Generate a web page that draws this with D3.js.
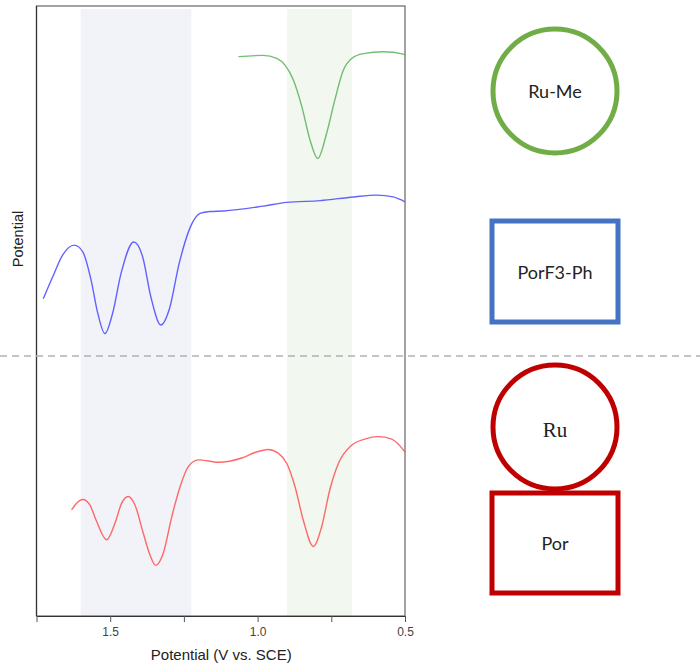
<!DOCTYPE html>
<html>
<head>
<meta charset="utf-8">
<script src="https://cdn.jsdelivr.net/npm/d3@7"></script>
<style>
  body { margin: 0; background: #fff; }
  svg { display: block; }
</style>
</head>
<body>
<svg id="chart" width="700" height="663"></svg>
<script>
// Potential (V vs. SCE) and relative signal for each trace
const potentialRuMe = [1.065, 0.981, 0.935, 0.907, 0.879, 0.850, 0.822, 0.796, 0.766, 0.738, 0.709, 0.681, 0.641, 0.574, 0.506, 0.500];
const signalRuMe    = [91.7, 91.9, 91.4, 90.3, 87.9, 83.5, 78.0, 75.0, 79.1, 84.6, 89.5, 91.4, 92.2, 92.5, 92.1, 92.0];

const potentialPorF3Ph = [1.727, 1.695, 1.661, 1.622, 1.593, 1.565, 1.542, 1.518, 1.492, 1.463, 1.420, 1.390, 1.362, 1.328, 1.300, 1.266, 1.232, 1.224, 1.195, 1.162, 1.116, 0.981, 0.901, 0.788, 0.675, 0.596, 0.540, 0.500];
const signalPorF3Ph    = [52.0, 55.6, 59.2, 60.8, 59.7, 55.1, 49.6, 46.3, 49.6, 56.2, 61.3, 58.9, 52.3, 47.7, 50.2, 57.8, 63.3, 64.2, 66.0, 66.3, 66.4, 67.2, 67.8, 68.1, 68.7, 69.0, 68.7, 67.9];

const potentialRuPor = [1.631, 1.614, 1.593, 1.569, 1.546, 1.512, 1.484, 1.461, 1.439, 1.416, 1.388, 1.365, 1.346, 1.320, 1.291, 1.263, 1.235, 1.201, 1.133, 1.054, 1.009, 0.964, 0.930, 0.901, 0.873, 0.845, 0.811, 0.783, 0.755, 0.726, 0.681, 0.636, 0.591, 0.545, 0.500];
const signalRuPor    = [17.4, 18.5, 19.1, 18.2, 15.5, 12.5, 15.2, 18.5, 19.6, 18.2, 13.6, 10.0, 8.3, 10.3, 16.3, 21.2, 24.5, 25.6, 25.2, 25.9, 26.8, 27.3, 26.7, 25.0, 21.2, 15.7, 11.4, 14.6, 20.7, 25.0, 28.0, 29.0, 29.4, 29.0, 26.9];

// Axis ticks
const xTickValues = [1.75, 1.5, 1.25, 1.0, 0.75, 0.5];
const xTickLabels = ["", "1.5", "", "1.0", "", "0.5"];

// Highlighted potential windows
const bandStart = [1.60, 0.90];
const bandEnd   = [1.225, 0.68];

// Species key labels
const speciesLabels = ["Ru-Me", "PorF3-Ph", "Ru", "Por"];

const svg = d3.select("#chart");
const plot = { left: 36.5, right: 405, top: 6, bottom: 616 };

const x = d3.scaleLinear().domain([1.75, 0.5]).range([plot.left, plot.right]);
const y = d3.scaleLinear().domain([0, 100]).range([plot.bottom, plot.top]);

// shaded windows
const bandColors = ["#f2f3f8", "#f2f7f0"];
svg.append("g").selectAll("rect")
  .data(bandStart.map((s, i) => ({ s, e: bandEnd[i], c: bandColors[i] })))
  .join("rect")
  .attr("x", d => x(d.s))
  .attr("y", plot.top + 3)
  .attr("width", d => x(d.e) - x(d.s))
  .attr("height", plot.bottom - plot.top - 3)
  .attr("fill", d => d.c);

// frame
svg.append("rect")
  .attr("x", plot.left).attr("y", plot.top)
  .attr("width", plot.right - plot.left).attr("height", plot.bottom - plot.top)
  .attr("fill", "none").attr("stroke", "#666").attr("stroke-width", 1.2);
svg.append("line")
  .attr("x1", plot.left).attr("x2", plot.left)
  .attr("y1", plot.top).attr("y2", plot.bottom)
  .attr("stroke", "#333").attr("stroke-width", 1.2);

// traces
const line = d3.line().x(d => x(d[0])).y(d => y(d[1])).curve(d3.curveMonotoneX);
const traces = [
  { p: potentialRuMe, s: signalRuMe, color: "#4fae4f", op: 0.8 },
  { p: potentialPorF3Ph, s: signalPorF3Ph, color: "#5252ff", op: 0.9 },
  { p: potentialRuPor, s: signalRuPor, color: "#ff5050", op: 0.85 }
];
svg.append("g").selectAll("path")
  .data(traces)
  .join("path")
  .attr("d", d => line(d.p.map((v, i) => [v, d.s[i]])))
  .attr("fill", "none")
  .attr("stroke", d => d.color)
  .attr("stroke-opacity", d => d.op)
  .attr("stroke-width", 1.4);

// bottom axis
const xAxis = d3.axisBottom(x)
  .tickValues(xTickValues)
  .tickFormat((d, i) => xTickLabels[i])
  .tickSize(6)
  .tickSizeOuter(0);
const gx = svg.append("g").attr("transform", `translate(0,${plot.bottom})`).call(xAxis);
gx.select(".domain").attr("stroke", "#333").attr("stroke-width", 1.2);
gx.selectAll(".tick line").attr("stroke", "#555");
gx.selectAll(".tick text")
  .attr("font-family", "Liberation Sans, Arial, sans-serif")
  .attr("font-size", 12)
  .attr("fill", "#444")
  .attr("dy", "0.95em");

// axis titles
svg.append("text")
  .attr("x", (plot.left + plot.right) / 2 + 0.5)
  .attr("y", 660)
  .attr("text-anchor", "middle")
  .attr("font-family", "Liberation Sans, Arial, sans-serif")
  .attr("font-size", 15)
  .attr("fill", "#222")
  .text("Potential (V vs. SCE)");
svg.append("text")
  .attr("transform", "translate(23,239) rotate(-90)")
  .attr("text-anchor", "middle")
  .attr("font-family", "Liberation Sans, Arial, sans-serif")
  .attr("font-size", 14.5)
  .attr("fill", "#222")
  .text("Potential");

// separator between the two halves
svg.append("line")
  .attr("x1", 0).attr("x2", 700)
  .attr("y1", 356).attr("y2", 356)
  .attr("stroke", "#b0b0b8")
  .attr("stroke-width", 1.5)
  .attr("stroke-dasharray", "7,5");

// species key
const key = svg.append("g");
const cx = 555;
const sw = 5;
// Ru-Me circle
key.append("circle").attr("cx", cx).attr("cy", 91).attr("r", 62)
  .attr("fill", "none").attr("stroke", "#70ad47").attr("stroke-width", sw);
// PorF3-Ph square
key.append("rect").attr("x", 492).attr("y", 221).attr("width", 126).attr("height", 101)
  .attr("fill", "none").attr("stroke", "#4472c4").attr("stroke-width", sw);
// Ru circle
key.append("circle").attr("cx", cx).attr("cy", 427).attr("r", 62)
  .attr("fill", "none").attr("stroke", "#c00000").attr("stroke-width", sw);
// Por square
key.append("rect").attr("x", 492).attr("y", 493).attr("width", 126).attr("height", 100)
  .attr("fill", "none").attr("stroke", "#c00000").attr("stroke-width", sw);

const keyText = [
  { t: speciesLabels[0], y: 91, font: "Lato, 'Open Sans', sans-serif", size: 18 },
  { t: speciesLabels[1], y: 272, font: "Lato, 'Open Sans', sans-serif", size: 18 },
  { t: speciesLabels[2], y: 430, font: "'Liberation Serif', 'Times New Roman', serif", size: 21 },
  { t: speciesLabels[3], y: 543, font: "Lato, 'Open Sans', sans-serif", size: 18 }
];
key.selectAll("text.lbl")
  .data(keyText)
  .join("text")
  .attr("class", "lbl")
  .attr("x", cx)
  .attr("y", d => d.y)
  .attr("text-anchor", "middle")
  .attr("dominant-baseline", "central")
  .attr("font-family", d => d.font)
  .attr("font-size", d => d.size)
  .attr("fill", "#222")
  .text(d => d.t);
</script>
</body>
</html>
